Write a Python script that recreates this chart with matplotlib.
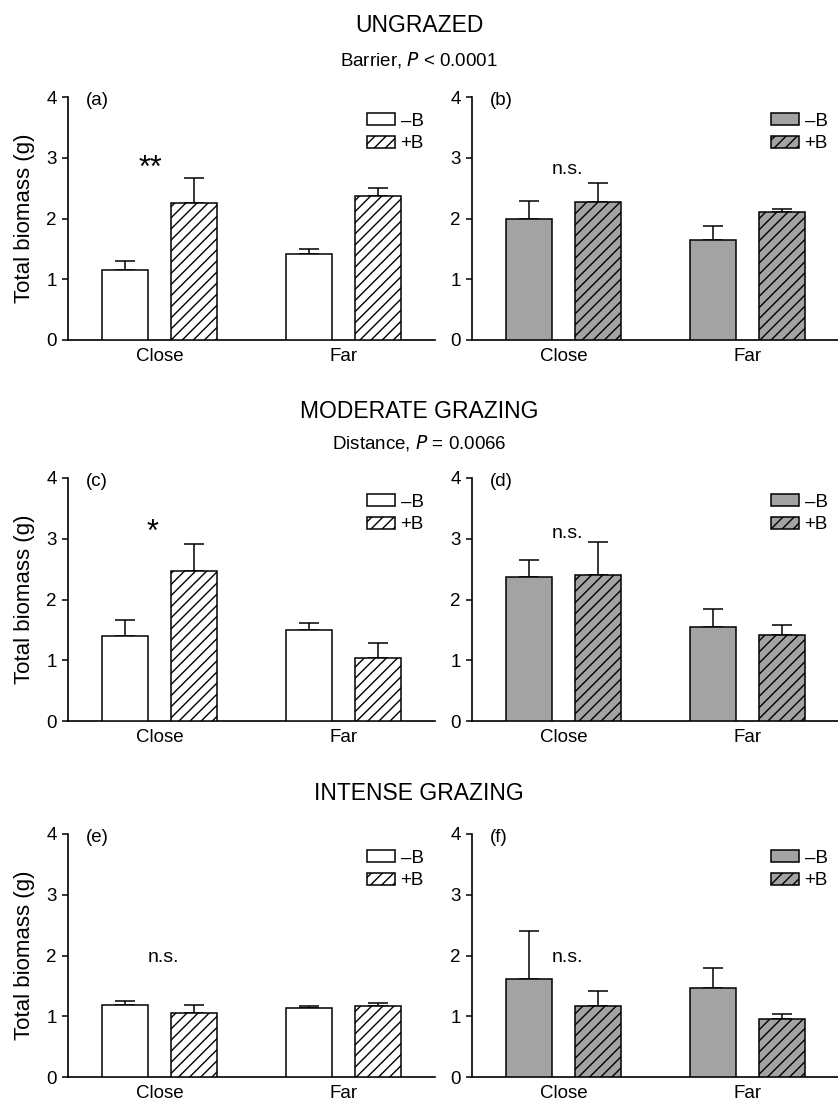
import matplotlib
matplotlib.use('Agg')
import matplotlib.pyplot as plt
import matplotlib.patches as mpatches
import numpy as np

plt.rcParams['font.family'] = ['Liberation Sans', 'DejaVu Sans']
plt.rcParams['hatch.linewidth'] = 1.0

# Data (means and upper standard errors)
groups = ['Close', 'Far']
panel_ids = ['(a)', '(b)', '(c)', '(d)', '(e)', '(f)']

minus_b = [[1.16, 1.41], [1.99, 1.65],
           [1.40, 1.49], [2.37, 1.54],
           [1.18, 1.13], [1.62, 1.46]]
minus_se = [[0.14, 0.09], [0.29, 0.23],
            [0.27, 0.13], [0.28, 0.30],
            [0.07, 0.04], [0.79, 0.34]]
plus_b = [[2.25, 2.37], [2.27, 2.10],
          [2.47, 1.04], [2.40, 1.41],
          [1.05, 1.17], [1.17, 0.95]]
plus_se = [[0.41, 0.14], [0.31, 0.05],
           [0.44, 0.24], [0.54, 0.17],
           [0.13, 0.04], [0.24, 0.08]]

sig_labels = ['**', 'n.s.', '*', 'n.s.', 'n.s.', 'n.s.']
sig_y = [2.68, 2.74, 2.97, 3.02, 1.90, 1.90]
sig_x = [-0.05, 0.02, -0.04, 0.02, 0.02, 0.02]

row_titles = ['UNGRAZED', 'MODERATE GRAZING', 'INTENSE GRAZING']
row_subtitles = ['Barrier, $\\it{P}$ < 0.0001', 'Distance, $\\it{P}$ = 0.0066', None]

fig = plt.figure(figsize=(8.38, 11.04), dpi=100, facecolor='white')

W, H = 838.0, 1104.0
col_left = [68, 472]
ax_w = 367
ax_h = 243
row_zero = [340, 721, 1077]

grey = '#a3a3a3'
bar_w = 0.25
offs = 0.1875
x = np.arange(len(groups))

for i in range(6):
    r, c = divmod(i, 2)
    ax = fig.add_axes([col_left[c] / W, 1 - row_zero[r] / H, ax_w / W, ax_h / H])
    fill = 'white' if c == 0 else grey

    ax.bar(x - offs, minus_b[i], bar_w, color=fill, edgecolor='black', linewidth=1.1,
           zorder=3)
    ax.bar(x + offs, plus_b[i], bar_w, color=fill, edgecolor='black', linewidth=1.1,
           hatch='///', zorder=3)
    ax.errorbar(x - offs, minus_b[i], yerr=[np.zeros(2), minus_se[i]], fmt='none',
                ecolor='black', elinewidth=1.1, capsize=7, capthick=1.1, zorder=2)
    ax.errorbar(x + offs, plus_b[i], yerr=[np.zeros(2), plus_se[i]], fmt='none',
                ecolor='black', elinewidth=1.1, capsize=7, capthick=1.1, zorder=2)

    fs = 22 if '*' in sig_labels[i] else 14
    ax.text(sig_x[i], sig_y[i], sig_labels[i], ha='center', va='baseline', fontsize=fs)
    ax.text(0.05, 0.985, panel_ids[i], transform=ax.transAxes, ha='left', va='center',
            fontsize=13.5)

    ax.set_xlim(-0.5, 1.5)
    ax.set_ylim(0, 4)
    ax.set_yticks([0, 1, 2, 3, 4])
    ax.set_xticks(x)
    ax.set_xticklabels(groups, fontsize=13.5)
    ax.tick_params(axis='y', labelsize=13.5, direction='out', length=4, width=1.1, pad=4)
    ax.tick_params(axis='x', length=0, pad=6)
    for s in ['top', 'right']:
        ax.spines[s].set_visible(False)
    for s in ['left', 'bottom']:
        ax.spines[s].set_linewidth(1.2)
    if c == 0:
        ax.set_ylabel('Total biomass (g)', fontsize=16, labelpad=8)

    handles = [mpatches.Patch(facecolor=fill, edgecolor='black', linewidth=1.1, label='\u2013B'),
               mpatches.Patch(facecolor=fill, edgecolor='black', linewidth=1.1, hatch='///',
                              label='+B')]
    ax.legend(handles=handles, loc='upper right', bbox_to_anchor=(0.97, 0.935),
              frameon=False, fontsize=13.5, handlelength=1.5, handleheight=0.6,
              handletextpad=0.3, labelspacing=0.3, borderaxespad=0, borderpad=0)

title_y = [25, 412, 793]
sub_y = [60, 443]
for r in range(3):
    fig.text(0.5, 1 - title_y[r] / H, row_titles[r], ha='center', va='center', fontsize=16.5)
    if row_subtitles[r]:
        fig.text(0.5, 1 - sub_y[r] / H, row_subtitles[r], ha='center', va='center',
                 fontsize=13.5)

fig.savefig('out.png', dpi=100, facecolor='white')
